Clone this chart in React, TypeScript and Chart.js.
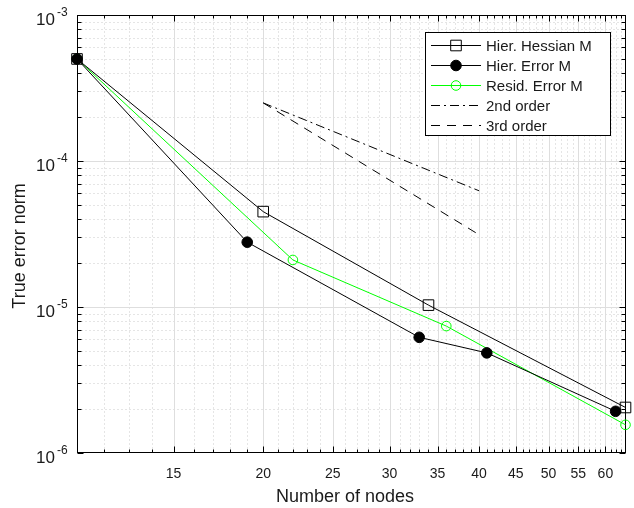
import React, { useEffect, useRef } from 'react';
import { Chart, registerables } from 'chart.js';

Chart.register(...registerables);

const FONT = '"Liberation Sans", Arial, Helvetica, sans-serif';

// ---- data ----
const HESS_X = [11, 20, 34, 64];
const HESS_Y = [5.0e-4, 4.5e-5, 1.03e-5, 2.05e-6];
const ERR_X = [11, 19, 33, 41, 62];
const ERR_Y = [5.0e-4, 2.78e-5, 6.2e-6, 4.85e-6, 1.93e-6];
const RES_X = [11, 22, 36, 64];
const RES_Y = [5.0e-4, 2.1e-5, 7.4e-6, 1.56e-6];
const ORD2_X = [20, 40];
const ORD2_Y = [2.5e-4, 6.25e-5];
const ORD3_X = [20, 40];
const ORD3_Y = [2.5e-4, 3.125e-5];

const SERIES_LABELS = ['Hier. Hessian M', 'Hier. Error M', 'Resid. Error M', '2nd order', '3rd order'];
const X_TICKS = [15, 20, 25, 30, 35, 40, 45, 50, 55, 60];
const Y_DECADES = [-6, -5, -4, -3];
const X_MIN = 11;
const X_MAX = 64;
const Y_MIN = 1e-6;
const Y_MAX = 1e-3;
const X_TITLE = 'Number of nodes';
const Y_TITLE = 'True error norm';

const GREEN = '#00ff00';
const INK = '#000000';
const TEXT = '#1a1a1a';

const toPts = (xs: number[], ys: number[]) => xs.map((x, i) => ({ x, y: ys[i] }));

function drawMarker(ctx: CanvasRenderingContext2D, ds: any, x: number, y: number) {
  const r = ds.pointRadius || 0;
  if (!r) return;
  ctx.save();
  ctx.setLineDash([]);
  ctx.lineWidth = ds.pointBorderWidth || 1;
  ctx.strokeStyle = ds.pointBorderColor;
  ctx.fillStyle = ds.pointBackgroundColor;
  ctx.beginPath();
  if (ds.pointStyle === 'rect') {
    const s = Math.SQRT1_2 * r;
    ctx.rect(x - s, y - s, 2 * s, 2 * s);
  } else {
    ctx.arc(x, y, r, 0, Math.PI * 2);
  }
  ctx.fill();
  ctx.stroke();
  ctx.restore();
}

const matlabAxes = {
  id: 'matlabAxes',
  beforeDatasetsDraw(chart: any) {
    const { ctx, chartArea: a, scales } = chart;
    const xs = scales.x;
    const ys = scales.y;
    const L = Math.round(a.left) + 0.5;
    const R = Math.round(a.right) - 0.5;
    const T = Math.round(a.top) + 0.5;
    const B = Math.round(a.bottom) - 0.5;
    const px = (v: number) => Math.round(xs.getPixelForValue(v)) + 0.5;
    const py = (v: number) => Math.round(ys.getPixelForValue(v)) + 0.5;

    const xMinor: number[] = [];
    for (let v = Math.floor(X_MIN) + 1; v < X_MAX; v++) if (!X_TICKS.includes(v)) xMinor.push(v);
    const yMinor: number[] = [];
    for (let e = Y_DECADES[0]; e < Y_DECADES[Y_DECADES.length - 1]; e++)
      for (let k = 2; k <= 9; k++) yMinor.push(k * Math.pow(10, e));

    ctx.save();
    ctx.lineWidth = 1;
    // minor dotted grid
    ctx.strokeStyle = '#cacaca';
    ctx.setLineDash([1, 3]);
    ctx.beginPath();
    xMinor.forEach((v) => { const x = px(v); ctx.moveTo(x, T); ctx.lineTo(x, B); });
    yMinor.forEach((v) => { const y = py(v); ctx.moveTo(L, y); ctx.lineTo(R, y); });
    ctx.stroke();
    // major solid grid
    ctx.setLineDash([]);
    ctx.strokeStyle = '#dedede';
    ctx.beginPath();
    X_TICKS.forEach((v) => { const x = px(v); ctx.moveTo(x, T); ctx.lineTo(x, B); });
    Y_DECADES.forEach((e) => { const y = py(Math.pow(10, e)); if (y > T + 1 && y < B - 1) { ctx.moveTo(L, y); ctx.lineTo(R, y); } });
    ctx.stroke();

    // box
    ctx.strokeStyle = INK;
    ctx.strokeRect(L, T, R - L, B - T);

    // ticks
    const MAJ = 6;
    const MIN = 3;
    ctx.beginPath();
    X_TICKS.forEach((v) => { const x = px(v); ctx.moveTo(x, B); ctx.lineTo(x, B - MAJ); ctx.moveTo(x, T); ctx.lineTo(x, T + MAJ); });
    xMinor.forEach((v) => { const x = px(v); ctx.moveTo(x, B); ctx.lineTo(x, B - MIN); ctx.moveTo(x, T); ctx.lineTo(x, T + MIN); });
    Y_DECADES.forEach((e) => { const y = py(Math.pow(10, e)); ctx.moveTo(L, y); ctx.lineTo(L + MAJ, y); ctx.moveTo(R, y); ctx.lineTo(R - MAJ, y); });
    yMinor.forEach((v) => { const y = py(v); ctx.moveTo(L, y); ctx.lineTo(L + MIN + 1, y); ctx.moveTo(R, y); ctx.lineTo(R - MIN - 1, y); });
    ctx.stroke();

    // x tick labels
    ctx.fillStyle = TEXT;
    ctx.font = `14px ${FONT}`;
    ctx.textAlign = 'center';
    ctx.textBaseline = 'alphabetic';
    X_TICKS.forEach((v) => ctx.fillText(String(v), xs.getPixelForValue(v), a.bottom + 25));

    // y tick labels 10^n
    Y_DECADES.forEach((e) => {
      const y = ys.getPixelForValue(Math.pow(10, e));
      ctx.font = `17px ${FONT}`;
      ctx.textAlign = 'right';
      ctx.fillText('10', a.left - 22, y + 10);
      ctx.font = `12px ${FONT}`;
      ctx.textAlign = 'left';
      ctx.fillText(String(e), a.left - 20, y + 1);
    });

    // axis titles
    ctx.font = `18px ${FONT}`;
    ctx.textAlign = 'center';
    ctx.fillText(X_TITLE, 345, 502);
    ctx.save();
    ctx.translate(25, 246);
    ctx.rotate(-Math.PI / 2);
    ctx.fillText(Y_TITLE, 0, 0);
    ctx.restore();
    ctx.restore();
  },
  afterDatasetsDraw(chart: any) {
    const { ctx } = chart;
    const bx = 425.5, by = 32.5, bw = 185, bh = 103;
    ctx.save();
    ctx.fillStyle = '#ffffff';
    ctx.fillRect(bx, by, bw, bh);
    ctx.lineWidth = 1;
    ctx.strokeStyle = INK;
    ctx.setLineDash([]);
    ctx.strokeRect(bx, by, bw, bh);
    chart.data.datasets.forEach((ds: any, i: number) => {
      const y = 45.5 + 20 * i;
      ctx.save();
      ctx.strokeStyle = ds.borderColor;
      ctx.lineWidth = ds.borderWidth || 1;
      ctx.setLineDash(ds.borderDash || []);
      ctx.beginPath();
      ctx.moveTo(431, y);
      ctx.lineTo(481, y);
      ctx.stroke();
      ctx.restore();
      drawMarker(ctx, ds, 456, y);
      ctx.fillStyle = TEXT;
      ctx.font = `15px ${FONT}`;
      ctx.textAlign = 'left';
      ctx.textBaseline = 'alphabetic';
      ctx.fillText(ds.label, 486, y + 5);
    });
    ctx.restore();
  },
};

export default function App() {
  const ref = useRef<HTMLCanvasElement>(null);
  useEffect(() => {
    if (!ref.current) return;
    const chart = new Chart(ref.current, {
      type: 'line',
      data: {
        datasets: [
          {
            label: SERIES_LABELS[0], data: toPts(HESS_X, HESS_Y), borderColor: INK, borderWidth: 1,
            pointStyle: 'rect', pointRadius: 7.5, pointBorderColor: INK, pointBackgroundColor: 'rgba(0,0,0,0)', pointBorderWidth: 1,
            tension: 0, clip: false,
          },
          {
            label: SERIES_LABELS[1], data: toPts(ERR_X, ERR_Y), borderColor: INK, borderWidth: 1,
            pointStyle: 'circle', pointRadius: 5.3, pointBorderColor: INK, pointBackgroundColor: INK, pointBorderWidth: 1,
            tension: 0, clip: false,
          },
          {
            label: SERIES_LABELS[2], data: toPts(RES_X, RES_Y), borderColor: GREEN, borderWidth: 1,
            pointStyle: 'circle', pointRadius: 4.8, pointBorderColor: GREEN, pointBackgroundColor: 'rgba(0,0,0,0)', pointBorderWidth: 1,
            tension: 0, clip: false,
          },
          {
            label: SERIES_LABELS[3], data: toPts(ORD2_X, ORD2_Y), borderColor: INK, borderWidth: 1,
            borderDash: [9, 4, 2, 4], pointRadius: 0, tension: 0, clip: false,
          },
          {
            label: SERIES_LABELS[4], data: toPts(ORD3_X, ORD3_Y), borderColor: INK, borderWidth: 1,
            borderDash: [9, 7], pointRadius: 0, tension: 0, clip: false,
          },
        ] as any,
      },
      options: {
        responsive: false,
        maintainAspectRatio: false,
        devicePixelRatio: 1,
        animation: false,
        events: [],
        layout: { padding: { left: 77, top: 15, right: 2, bottom: 55 } },
        plugins: { legend: { display: false }, tooltip: { enabled: false } },
        scales: {
          x: { type: 'logarithmic', min: X_MIN, max: X_MAX, display: false },
          y: { type: 'logarithmic', min: Y_MIN, max: Y_MAX, display: false },
        },
      },
      plugins: [matlabAxes as any],
    });
    return () => chart.destroy();
  }, []);
  return (
    <div style={{ position: 'absolute', left: 0, top: 0, width: 634, height: 508, background: '#ffffff' }}>
      <canvas ref={ref} width={634} height={508} style={{ display: 'block', width: 634, height: 508 }} />
    </div>
  );
}
